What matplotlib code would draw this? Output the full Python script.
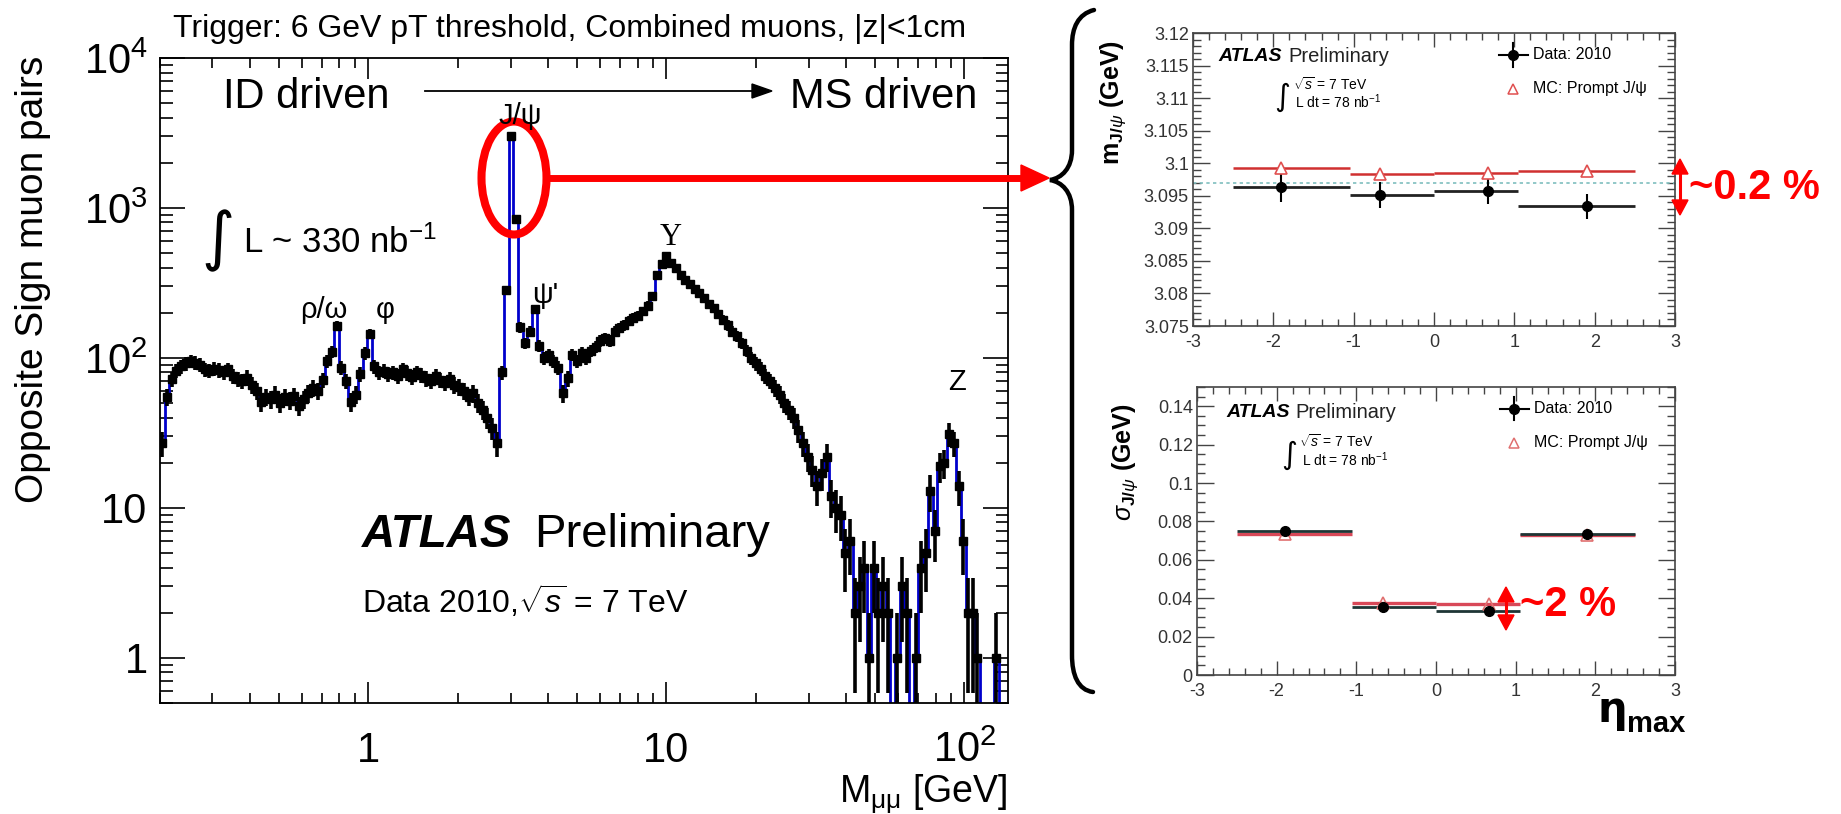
import numpy as np
import matplotlib.pyplot as plt
from matplotlib.path import Path
from matplotlib.patches import PathPatch, Ellipse, Polygon
from matplotlib.ticker import MultipleLocator, FuncFormatter, NullFormatter, LogLocator

plt.rcParams['font.family'] = ['Liberation Sans', 'DejaVu Sans']
plt.rcParams['mathtext.fontset'] = 'custom'
plt.rcParams['mathtext.rm'] = 'Liberation Sans'
plt.rcParams['mathtext.it'] = 'Liberation Sans:italic'
plt.rcParams['mathtext.bf'] = 'Liberation Sans:bold'
plt.rcParams['axes.unicode_minus'] = False

# dimuon mass spectrum: 180 log-spaced bins from 0.2 to 140 GeV
mass_lo, mass_hi = 0.2, 140.0
pair_counts = [
    27, 55, 72, 82, 88, 92, 95, 93, 90, 84,
    82, 85, 83, 80, 84, 76, 72, 70, 74, 66,
    60, 51, 55, 53, 57, 50, 55, 52, 56, 48,
    53, 58, 63, 60, 71, 95, 110, 163, 86, 70,
    51, 57, 78, 108, 145, 88, 80, 82, 78, 80,
    76, 84, 79, 75, 80, 77, 73, 70, 76, 71,
    68, 72, 66, 64, 60, 55, 58, 50, 45, 40,
    34, 27, 80, 285, 3000, 840, 160, 125, 150, 212,
    120, 100, 105, 95, 86, 58, 73, 105, 95, 108,
    100, 112, 118, 130, 136, 130, 150, 159, 165, 177,
    185, 191, 205, 223, 260, 360, 425, 480, 430, 400,
    360, 330, 310, 290, 270, 250, 230, 215, 195, 180,
    165, 150, 140, 125, 112, 100, 92, 85, 76, 70,
    63, 57, 50, 45, 40, 33, 27, 22, 18, 14,
    17, 22, 12, 10, 9, 5, 6, 2, 3, 4,
    1, 4, 2, 3, 2, 0, 1, 3, 2, 0,
    1, 4, 5, 13, 7, 19, 20, 31, 27, 14,
    6, 2, 2, 1, 0, 0, 0, 1, 0, 0,
]
x_ticks = [1, 10, 100]
x_tick_labels = ['1', '10', '$10^{2}$']
y_ticks = [1, 10, 100, 1000, 10000]
y_tick_labels = ['1', '10', '$10^{2}$', '$10^{3}$', '$10^{4}$']

# J/psi mass and width vs eta
eta_edges = [-2.5, -1.05, 0.0, 1.05, 2.5]
eta_points = [-1.9, -0.67, 0.67, 1.9]
mass_data = [3.0963, 3.0951, 3.0958, 3.0934]
mass_err = [0.0022, 0.0020, 0.0020, 0.0019]
mass_mc = [3.0992, 3.0983, 3.0985, 3.0988]
pdg_mass = 3.0969
width_data = [0.0751, 0.0352, 0.0335, 0.0732]
width_err = [0.0010, 0.0008, 0.0008, 0.0010]
width_mc = [0.0734, 0.0373, 0.0368, 0.0729]

W, H = 1841, 814
fig = plt.figure(figsize=(W / 100, H / 100), dpi=100)


def box(l, t, r, b):
    return [l / W, 1 - b / H, (r - l) / W, (b - t) / H]


# ---- left: spectrum ----
ax = fig.add_axes(box(160, 58, 1008, 703))
counts = np.array(pair_counts, dtype=float)
edges = np.geomspace(mass_lo, mass_hi, len(counts) + 1)
centers = np.sqrt(edges[:-1] * edges[1:])
ax.stairs(np.where(counts > 0, counts, 0.3), edges, baseline=None,
          color='#0000cc', lw=2, zorder=2)
m = counts > 0
c = counts[m]
err = np.sqrt(c)
ax.errorbar(centers[m], c,
            xerr=[centers[m] - edges[:-1][m], edges[1:][m] - centers[m]],
            yerr=[c - np.maximum(c - err, 0.3), err],
            fmt='s', ms=5.5, color='black', ecolor='black', elinewidth=2.6,
            capsize=0, zorder=3)
ax.set_xscale('log')
ax.set_yscale('log')
ax.set_xlim(mass_lo, mass_hi)
ax.set_ylim(0.5, 1e4)
ax.set_xticks(x_ticks, labels=x_tick_labels)
ax.set_yticks(y_ticks, labels=y_tick_labels)
ax.xaxis.set_minor_locator(LogLocator(subs=np.arange(2, 10)))
ax.yaxis.set_minor_locator(LogLocator(subs=np.arange(2, 10)))
ax.xaxis.set_minor_formatter(NullFormatter())
ax.yaxis.set_minor_formatter(NullFormatter())
ax.tick_params(which='both', direction='in', top=True, right=True, width=1.2, labelsize=30)
ax.tick_params(axis='x', which='major', length=15, pad=20)
ax.tick_params(axis='x', which='minor', length=7)
ax.tick_params(axis='y', which='major', length=18, pad=9)
ax.tick_params(axis='y', which='minor', length=9)
for s in ax.spines.values():
    s.set_linewidth(1.3)


# ---- right: J/psi mass and width ----
def fmt(v, p):
    return '0' if abs(v) < 1e-9 else f'{v:g}'


def style_small(a, ymaj, ymin):
    a.set_xlim(-3, 3)
    a.xaxis.set_major_locator(MultipleLocator(1))
    a.xaxis.set_minor_locator(MultipleLocator(0.2))
    a.yaxis.set_major_locator(MultipleLocator(ymaj))
    a.yaxis.set_minor_locator(MultipleLocator(ymin))
    a.xaxis.set_major_formatter(FuncFormatter(fmt))
    a.yaxis.set_major_formatter(FuncFormatter(fmt))
    a.tick_params(which='both', direction='in', top=True, right=True,
                  labelsize=13, labelcolor='#333333', color='#444444', width=1)
    a.tick_params(axis='x', which='major', length=10, pad=6)
    a.tick_params(axis='x', which='minor', length=5)
    a.tick_params(axis='y', which='major', length=12, pad=3)
    a.tick_params(axis='y', which='minor', length=6)
    for s in a.spines.values():
        s.set_color('#444444')
        s.set_linewidth(1.2)


def header(a, dx, y_atlas, x_int, y_int):
    a.text(dx, y_atlas, 'ATLAS', transform=a.transAxes, fontsize=14,
           fontweight='bold', fontstyle='italic', va='center')
    a.text(dx + 0.145, y_atlas, 'Preliminary', transform=a.transAxes,
           fontsize=14.5, va='center', color='#222222')
    a.text(x_int, y_int, '\u222b', transform=a.transAxes, fontsize=22,
           family='DejaVu Sans', va='center', ha='center')
    a.text(x_int + 0.022, y_int + 0.045, r'$\sqrt{s}$ = 7 TeV', transform=a.transAxes,
           fontsize=10, va='center')
    a.text(x_int + 0.027, y_int - 0.015, r'L dt = 78 nb$^{-1}$', transform=a.transAxes,
           fontsize=10, va='center')


def legend(a, y_data, y_mc, mc_color):
    xm = 0.664
    a.plot([xm - 0.03, xm + 0.03], [y_data, y_data], color='black', lw=1.5,
           transform=a.transAxes, clip_on=False)
    a.plot([xm, xm], [y_data - 0.04, y_data + 0.04], color='black', lw=1.5,
           transform=a.transAxes, clip_on=False)
    a.plot([xm], [y_data], 'o', ms=7, color='black', transform=a.transAxes)
    a.text(xm + 0.041, y_data, 'Data: 2010', transform=a.transAxes, fontsize=11.5, va='center')
    a.plot([xm], [y_mc], '^', ms=7, mfc='white', mec=mc_color, mew=1.1,
           transform=a.transAxes)
    a.text(xm + 0.041, y_mc, 'MC: Prompt J/\u03c8', transform=a.transAxes,
           fontsize=11.5, va='center')


ax2 = fig.add_axes(box(1193, 33, 1675, 326))
style_small(ax2, 0.005, 0.001)
ax2.set_ylim(3.075, 3.12)
ax2.axhline(pdg_mass, color='#7fbfbf', lw=1.2, ls=(0, (2, 2)))
ax2.hlines(mass_mc, eta_edges[:-1], eta_edges[1:], color='#d03030', lw=1.8)
ax2.hlines(mass_data, eta_edges[:-1], eta_edges[1:], color='#222222', lw=2)
ax2.errorbar(eta_points, mass_data, yerr=mass_err, fmt='o', ms=7, color='black',
             elinewidth=1.5, capsize=0)
ax2.plot(eta_points, mass_mc, '^', ms=8, mfc='white', mec='#e05050', mew=1.2)
header(ax2, 0.052, 0.92, 0.185, 0.78)
legend(ax2, 0.925, 0.809, '#e05050')

ax3 = fig.add_axes(box(1197, 387, 1675, 675))
style_small(ax3, 0.02, 0.005)
ax3.set_ylim(0, 0.15)
ax3.hlines(width_mc, eta_edges[:-1], eta_edges[1:], color='#d84858', lw=2.4)
ax3.hlines(width_data, eta_edges[:-1], eta_edges[1:], color='#1e3535', lw=2)
ax3.errorbar(eta_points, width_data, yerr=width_err, fmt='o', ms=7, color='black',
             elinewidth=1.5, capsize=0)
ax3.plot(eta_points, width_mc, '^', ms=8, mfc='none', mec='#e07070', mew=1.2)
header(ax3, 0.061, 0.913, 0.192, 0.764)
legend(ax3, 0.924, 0.806, '#e07070')

# ---- overlay in pixel coordinates ----
ov = fig.add_axes([0, 0, 1, 1], zorder=10)
ov.set_xlim(0, W)
ov.set_ylim(H, 0)
ov.axis('off')

ov.text(173, 37, 'Trigger: 6 GeV pT threshold, Combined muons, |z|<1cm',
        fontsize=23, va='baseline')
ov.text(223, 108, 'ID driven', fontsize=30, va='baseline')
ov.text(790, 108, 'MS driven', fontsize=30, va='baseline')
ov.plot([425, 758], [91, 91], color='black', lw=1.3)
ov.add_patch(Polygon([(752, 84), (772, 91), (752, 98)], closed=True, color='black'))

ov.text(33, 279, 'Opposite Sign muon pairs', rotation=90, ha='center', va='center',
        fontsize=28)
ov.text(1008, 803, r'M$_{\mathrm{\mu\mu}}$ [GeV]', ha='right', va='baseline', fontsize=27)

ov.text(520, 124, 'J/\u03c8', ha='center', va='baseline', fontsize=21)
ov.text(545, 303, "\u03c8'", ha='center', va='baseline', fontsize=21)
ov.text(300, 318, '\u03c1/\u03c9', ha='left', va='baseline', fontsize=21)
ov.text(376, 318, '\u03c6', ha='left', va='baseline', fontsize=21)
ov.text(671, 245, '\u03a5', ha='center', va='baseline', fontsize=22,
        family=['Liberation Serif', 'DejaVu Serif'])
ov.text(957, 390, 'Z', ha='center', va='baseline', fontsize=21)

ov.text(218, 241, '\u222b', ha='center', va='center', fontsize=46, family='DejaVu Sans')
ov.text(243, 253, r'L ~ 330 nb$^{-1}$', va='baseline', fontsize=25)

ov.text(362, 547, 'ATLAS', fontsize=33, fontweight='bold', fontstyle='italic', va='baseline')
ov.text(534, 547, 'Preliminary', fontsize=34, va='baseline')
ov.text(362, 613, r'Data 2010,$\sqrt{s}$ = 7 TeV', fontsize=23, va='baseline')

# red ellipse around the J/psi peak and arrow to the right panels
ov.add_patch(Ellipse((514, 178), 65, 113, fill=False, edgecolor='#ff0000', lw=5.8))
ov.plot([547, 1024], [178, 178], color='#ff0000', lw=5, solid_capstyle='butt')
ov.add_patch(Polygon([(1021, 165), (1049, 178), (1021, 191)], closed=True, color='#ff0000'))

# curly brace
verts = [(1094, 10), (1078, 14), (1072, 28), (1072, 45),
         (1072, 150),
         (1072, 168), (1062, 178), (1050, 180),
         (1062, 182), (1072, 192), (1072, 210),
         (1072, 655),
         (1072, 675), (1078, 690), (1093, 692)]
codes = [Path.MOVETO, Path.CURVE4, Path.CURVE4, Path.CURVE4,
         Path.LINETO,
         Path.CURVE4, Path.CURVE4, Path.CURVE4,
         Path.CURVE4, Path.CURVE4, Path.CURVE4,
         Path.LINETO,
         Path.CURVE4, Path.CURVE4, Path.CURVE4]
ov.add_patch(PathPatch(Path(verts, codes), fill=False, lw=3.2, edgecolor='black',
                       capstyle='round'))


def double_arrow(x, y0, y1):
    ov.plot([x, x], [y0 + 10, y1 - 10], color='#ff0000', lw=2.2)
    ov.add_patch(Polygon([(x - 8, y0 + 15), (x, y0), (x + 8, y0 + 15)], closed=True, color='#ff0000'))
    ov.add_patch(Polygon([(x - 8, y1 - 15), (x, y1), (x + 8, y1 - 15)], closed=True, color='#ff0000'))


double_arrow(1680, 159, 215)
double_arrow(1506, 587, 630)
ov.text(1689, 188, '~0.2 %', color='#ff0000', fontsize=30, fontweight='bold', va='center')
ov.text(1520, 605, '~2 %', color='#ff0000', fontsize=30, fontweight='bold', va='center')

ov.text(1598, 722, '\u03b7', fontsize=30, fontweight='bold', va='baseline', family='DejaVu Sans')
ov.text(1627, 732, 'max', fontsize=21, fontweight='bold', va='baseline')

ov.text(1113, 40, r'm$_{\mathbf{J/}\psi}$ (GeV)', rotation=90, ha='center', va='top',
        fontsize=18, fontweight='bold')
ov.text(1125, 403, r'$\sigma_{\mathbf{J/}\psi}$ (GeV)', rotation=90, ha='center', va='top',
        fontsize=18, fontweight='bold')

fig.savefig('out.png', dpi=100)
